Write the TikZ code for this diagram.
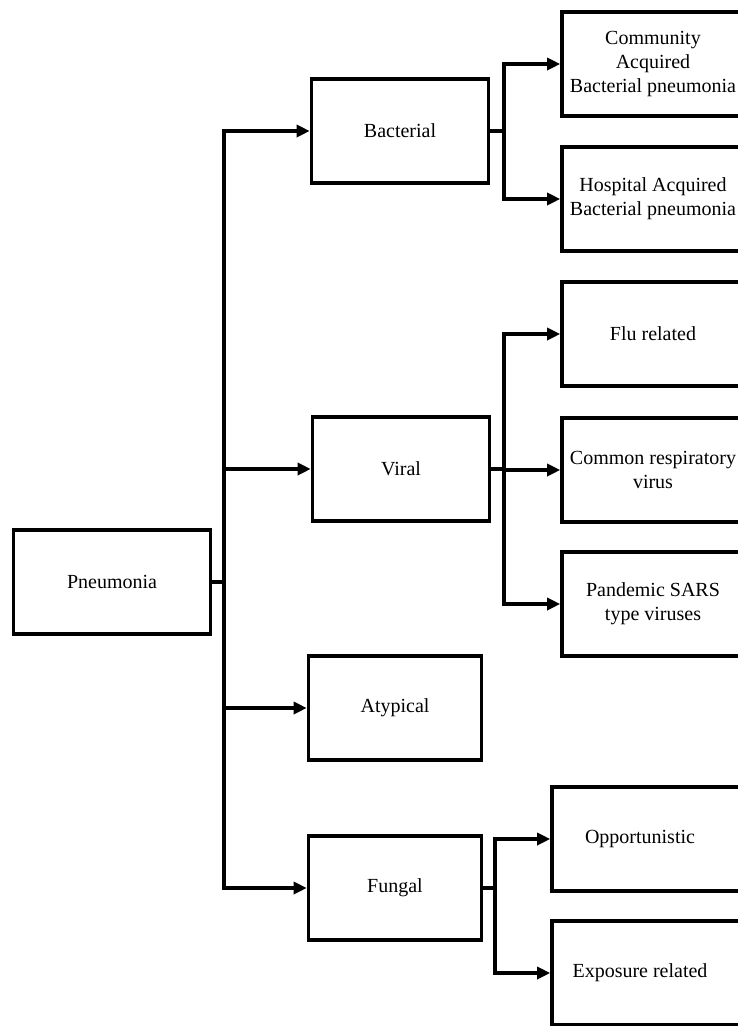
\documentclass[tikz,border=0pt]{standalone}
\usepackage{fontspec}
\setmainfont{Liberation Serif}
\usetikzlibrary{arrows.meta}
\begin{document}
\begin{tikzpicture}[x=1pt,y=-1pt,
  box/.style={draw, line width=3.6pt, rectangle, align=center,
    font=\fontsize{20}{24}\selectfont, minimum height=104pt, inner sep=2pt},
  mid/.style={box, minimum width=177pt},
  leaf/.style={box, minimum width=182pt},
  conn/.style={line width=3.8pt},
  vert/.style={conn, line cap=rect},
  arr/.style={conn, -{Triangle[length=13pt,width=12pt]}}]
\useasboundingbox (0,0) rectangle (738,1026);
\clip (0,0) rectangle (738,1026);
% nodes
\node[box, minimum width=197pt] (pn) at (112,582) {Pneumonia};
\node[mid] (bact) at (400,131) {Bacterial};
\node[mid] (vir) at (401,469) {Viral};
\node[mid, minimum width=173pt] (aty) at (395,708) {Atypical};
\node[mid, minimum width=173pt] (fung) at (395,888) {Fungal};
\node[leaf] (comm) at (653,64) {Community\\Acquired\\Bacterial pneumonia};
\node[leaf] (hosp) at (653,199) {Hospital Acquired\\Bacterial pneumonia};
\node[leaf] (flu) at (653,334) {Flu related};
\node[leaf] (cres) at (653,470) {Common respiratory\\virus};
\node[leaf] (pand) at (653,604) {Pandemic SARS\\type viruses};
\node[leaf, minimum width=192pt] (opp) at (648,839) {\hspace*{-16pt}Opportunistic};
\node[leaf, minimum width=192pt] (expo) at (648,973) {\hspace*{-16pt}Exposure related};
% branch x positions
\coordinate (trX) at (224,0);
\coordinate (bX) at (504,0);
\coordinate (fX) at (495,0);
% trunk
\draw[conn] (pn.east) -- (trX |- pn.east);
\draw[vert] (trX |- bact.west) -- (trX |- fung.west);
\draw[arr] (trX |- bact.west) -- (bact.west);
\draw[arr] (trX |- vir.west) -- (vir.west);
\draw[arr] (trX |- aty.west) -- (aty.west);
\draw[arr] (trX |- fung.west) -- (fung.west);
% bacterial
\draw[conn] (bact.east) -- (bX |- bact.east);
\draw[vert] (bX |- comm.west) -- (bX |- hosp.west);
\draw[arr] (bX |- comm.west) -- (comm.west);
\draw[arr] (bX |- hosp.west) -- (hosp.west);
% viral
\draw[conn] (vir.east) -- (bX |- vir.east);
\draw[vert] (bX |- flu.west) -- (bX |- pand.west);
\draw[arr] (bX |- flu.west) -- (flu.west);
\draw[arr] (bX |- cres.west) -- (cres.west);
\draw[arr] (bX |- pand.west) -- (pand.west);
% fungal
\draw[conn] (fung.east) -- (fX |- fung.east);
\draw[vert] (fX |- opp.west) -- (fX |- expo.west);
\draw[arr] (fX |- opp.west) -- (opp.west);
\draw[arr] (fX |- expo.west) -- (expo.west);
\end{tikzpicture}
\end{document}
